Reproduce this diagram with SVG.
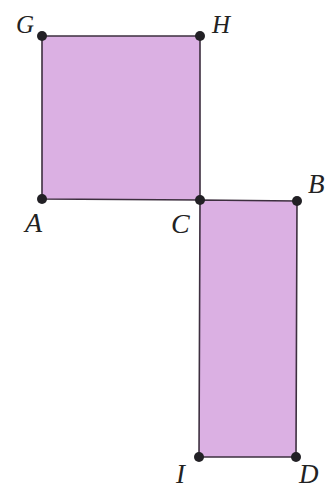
<svg xmlns="http://www.w3.org/2000/svg" width="333" height="488" viewBox="0 0 333 488">
<style>
.shape{fill:#dbb0e3;stroke:#3d2f3f;stroke-width:1.6;stroke-linejoin:round}
.pt{fill:#222025}
.lbl{font-family:"Liberation Serif",serif;font-style:italic;font-size:27px;fill:#222}
.sm{font-size:25px}
</style>
<rect width="333" height="488" fill="#ffffff"/>
<g id="square">
<polygon class="shape" points="42,36 200,36 200,200 42,199"/>
</g>
<g id="rectangle">
<polygon class="shape" points="200,200 297,201 296,457 199,457"/>
</g>
<g id="connectors"></g>
<g id="points">
<g id="G"><circle class="pt" cx="42" cy="36" r="5"/><text class="lbl sm" x="16" y="33">G</text></g>
<g id="H"><circle class="pt" cx="200" cy="36" r="5"/><text class="lbl sm" x="212" y="33">H</text></g>
<g id="A"><circle class="pt" cx="42" cy="199" r="5"/><text class="lbl" x="25" y="232" style="font-size:28px">A</text></g>
<g id="C"><circle class="pt" cx="200" cy="200" r="5"/><text class="lbl" x="171" y="233" style="font-size:28px">C</text></g>
<g id="B"><circle class="pt" cx="297" cy="201" r="5"/><text class="lbl" x="308" y="193">B</text></g>
<g id="I"><circle class="pt" cx="199" cy="457" r="5"/><text class="lbl" x="176" y="483">I</text></g>
<g id="D"><circle class="pt" cx="296" cy="457" r="5"/><text class="lbl" x="299" y="483">D</text></g>
</g>
</svg>
